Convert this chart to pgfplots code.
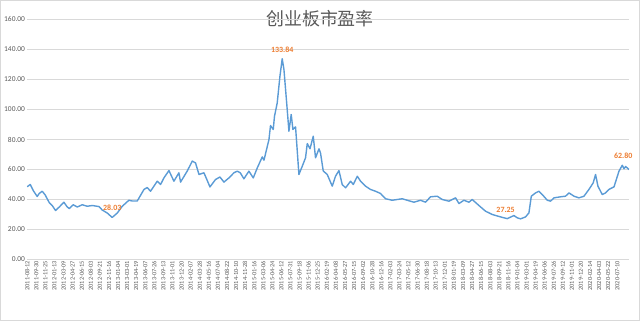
\documentclass[border=0pt]{standalone}
\usepackage{pgfplots}
\pgfplotsset{compat=1.18}
\usepackage{fontspec}
\setmainfont{Carlito}
\newfontfamily\cjk{Noto Sans CJK SC}
\definecolor{linec}{HTML}{5B9BD5}
\definecolor{labc}{HTML}{ED7D31}
\definecolor{gridc}{HTML}{D9D9D9}
\definecolor{txt}{HTML}{595959}
\begin{document}
\begin{tikzpicture}[x=1bp,y=1bp]
\path[use as bounding box] (0,0) rectangle (640,321);
\draw[gridc, line width=0.75bp] (0.5,0.5) rectangle (639.5,320.5);
\node[txt, font=\cjk\fontsize{18}{20}\selectfont] at (320,302) {创业板市盈率};
\begin{axis}[
  at={(30,41)}, anchor=south west, scale only axis,
  width=602bp, height=240bp,
  xmin=0, xmax=66.32, ymin=0, ymax=160,
  ytick={0,20,...,160},
  xtick={0,...,65},
  xticklabels={2011-08-12,2011-09-30,2011-11-25,2012-01-13,2012-03-09,2012-04-27,2012-06-15,2012-08-03,2012-09-21,2012-11-16,2013-01-04,2013-03-01,2013-04-19,2013-06-07,2013-07-26,2013-09-13,2013-11-01,2013-12-20,2014-02-07,2014-03-28,2014-05-16,2014-07-04,2014-08-22,2014-10-10,2014-11-28,2015-01-16,2015-03-06,2015-04-24,2015-06-12,2015-07-31,2015-09-18,2015-11-06,2015-12-25,2016-02-19,2016-04-08,2016-05-27,2016-07-15,2016-09-02,2016-10-28,2016-12-16,2017-02-03,2017-03-24,2017-05-12,2017-06-30,2017-08-18,2017-10-13,2017-12-01,2018-01-19,2018-03-09,2018-04-27,2018-06-15,2018-08-03,2018-09-21,2018-11-16,2019-01-04,2019-03-01,2019-04-19,2019-06-06,2019-07-26,2019-09-12,2019-11-01,2019-12-20,2020-02-14,2020-04-03,2020-05-22,2020-07-10},
  xticklabel style={rotate=90, anchor=east, font=\fontsize{6.3}{7}\selectfont, text=txt, inner sep=1.5bp},
  yticklabel style={font=\fontsize{7.5}{9}\selectfont, text=txt, inner sep=2bp},
  /pgf/number format/.cd, fixed, fixed zerofill, precision=2, assume math mode=true,
  /pgfplots/.cd,
  major tick length=0pt,
  axis x line*=bottom, axis y line*=left,
  x axis line style={gridc, line width=0.75bp, -},
  y axis line style={draw=none},
  ymajorgrids, grid style={gridc, line width=0.75bp},
  clip=false,
]
\addplot[linec, line width=1.4bp, no markers, line join=round] table {
k v
0 48.5
0.33 50
0.66 46
1.10 42
1.32 44
1.65 45.5
1.98 43
2.42 38
2.75 36
3.12 32.7
3.53 35
4.04 38.2
4.41 35
4.63 34
5.07 36.5
5.51 35
6.06 36.5
6.61 35.5
7.16 36
7.90 35.3
8.26 33
8.81 31
9.36 28.03
9.92 31
10.47 35.5
11.20 39.5
11.57 39
12.12 39
12.86 46.7
13.22 48
13.58 45.5
14.32 52.2
14.69 50
15.06 54.4
15.61 59.3
16.16 52.2
16.71 57.8
16.89 51.6
17.63 59
18.18 65.6
18.54 64.4
18.92 56.7
19.47 57.8
20.13 48.4
20.74 53.3
21.23 55
21.67 51.6
22.22 54.4
22.77 57.8
23.14 58.9
23.47 57.8
23.87 53.8
24.42 58.9
24.90 54.4
25.34 61
25.89 68.4
26.08 66.2
26.63 80
26.80 89.3
27.10 86.7
27.24 95.5
27.54 104.4
27.84 122.2
28.09 133.84
28.28 126.7
28.64 100
28.83 85.5
29.08 96.7
29.27 86.7
29.56 88.4
29.93 56.7
30.30 62.2
30.66 67.8
30.85 77.3
31.15 73.8
31.51 82.2
31.76 67.8
32.14 73.8
32.31 71
32.61 59
33.05 56.7
33.60 48.9
33.96 55.5
34.34 59.3
34.70 50
35.07 47.8
35.62 52.2
35.92 50
36.36 55.5
36.72 52.2
37.27 48.9
37.82 46.7
38.37 45.5
38.92 44
39.47 40.5
40.21 39.5
41.31 40.5
41.86 39.5
42.60 38.2
43.33 39.5
43.88 38.2
44.43 41.8
45.17 42.2
45.72 40
46.46 38.9
47.19 41.1
47.56 37.3
48.11 39.5
48.66 38.2
49.02 40
49.76 36
50.49 32.2
51.23 30
52.14 28.4
52.88 27.25
53.62 29.3
53.98 27.8
54.35 27.1
54.90 28.4
55.27 31.1
55.53 42.2
56.00 44.4
56.37 45.5
56.74 43.3
57.29 39.5
57.65 38.9
58.03 41.1
58.75 41.8
59.30 42.2
59.68 44.4
60.23 42.2
60.78 41.1
61.33 42.2
61.88 46.7
62.35 51.1
62.61 56.7
62.87 48.9
63.35 43.3
63.71 44.4
64.08 46.7
64.64 48.4
65.19 58.9
65.55 62.8
65.74 60.5
65.92 62.0
66.29 60.0
};
\node[labc, font=\fontsize{8}{9}\selectfont\bfseries, above, yshift=3bp] at (axis cs:28.09,133.84) {133.84};
\node[labc, font=\fontsize{8}{9}\selectfont\bfseries, above, yshift=3bp] at (axis cs:9.36,28.03) {28.03};
\node[labc, font=\fontsize{8}{9}\selectfont\bfseries, above, yshift=3bp] at (axis cs:52.7,27.25) {27.25};
\node[labc, font=\fontsize{8}{9}\selectfont\bfseries, above, yshift=3bp, xshift=1bp] at (axis cs:65.55,62.8) {62.80};
\end{axis}
\end{tikzpicture}
\end{document}
